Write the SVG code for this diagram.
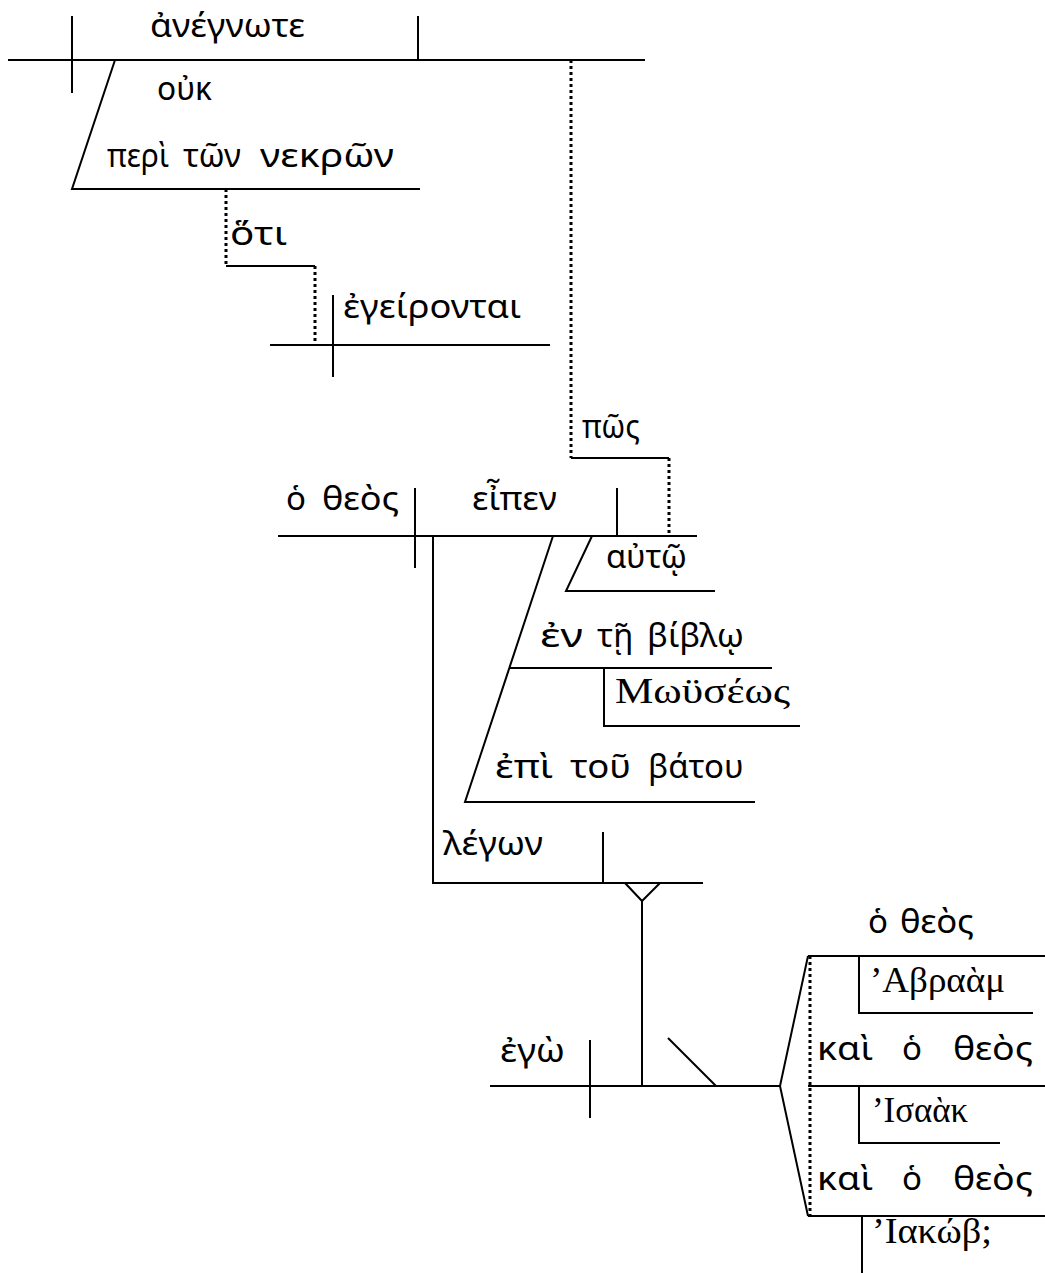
<svg xmlns="http://www.w3.org/2000/svg" width="1045" height="1273" viewBox="0 0 1045 1273">
<style>
.ln{fill:none;stroke:#000;stroke-width:2}
.dt{fill:none;stroke:#000;stroke-width:3;stroke-dasharray:3 3}
text{font-family:"Noto Sans","DejaVu Sans",sans-serif;font-size:33px;fill:#000}
text.s{font-family:"Liberation Serif","DejaVu Serif",serif;font-size:35px}
</style>
<rect width="1045" height="1273" fill="#fff"/>
<g id="connectors">
<path class="ln" d="M8,60 H645 M72,16 V93 M418,16 V60"/>
<path class="ln" d="M115,60 L72,189 H420"/>
<path class="dt" d="M226,189 V266"/>
<path class="ln" d="M226,266 H315"/>
<path class="dt" d="M315,266 V342"/>
<path class="ln" d="M270,345 H550 M333,295 V377"/>
<path class="dt" d="M571,60 V458"/>
<path class="ln" d="M571,458 H669"/>
<path class="dt" d="M669,458 V536"/>
<path class="ln" d="M278,536 H697 M415,488 V568 M617,488 V536"/>
<path class="ln" d="M592,536 L566,591 H715"/>
<path class="ln" d="M553,536 L465,802 H755 M510,668 H772"/>
<path class="ln" d="M604,668 V726 H800"/>
<path class="ln" d="M433,536 V883 H703 M603,832 V883"/>
<path class="ln" d="M625,883 L642,901 L660,883 M642,901 V1086"/>
<path class="ln" d="M490,1086 H780 M590,1040 V1118 M668,1038 L716,1086"/>
<path class="ln" d="M808,956 L780,1086 L808,1216"/>
<path class="ln" d="M808,956 H1045 M808,1086 H1045 M808,1216 H1045"/>
<path class="dt" d="M810,956 V1216"/>
<path class="ln" d="M859,956 V1013 H1033 M859,1086 V1143 H1000 M862,1216 V1273"/>
</g>
<g id="n-anegnote"><text x="150" y="37" textLength="155" lengthAdjust="spacingAndGlyphs">ἀνέγνωτε</text></g>
<g id="n-ouk"><text x="157" y="100" textLength="55" lengthAdjust="spacingAndGlyphs">οὐκ</text></g>
<g id="n-peri">
<text x="107" y="167" textLength="62" lengthAdjust="spacingAndGlyphs">περὶ</text>
<text x="183" y="167" textLength="58" lengthAdjust="spacingAndGlyphs">τῶν</text>
<text x="260" y="167" textLength="134" lengthAdjust="spacingAndGlyphs">νεκρῶν</text>
</g>
<g id="n-hoti"><text x="230" y="245" textLength="57" lengthAdjust="spacingAndGlyphs">ὅτι</text></g>
<g id="n-egeirontai"><text x="343" y="318" textLength="178" lengthAdjust="spacingAndGlyphs">ἐγείρονται</text></g>
<g id="n-pos"><text x="582" y="438" textLength="58" lengthAdjust="spacingAndGlyphs">πῶς</text></g>
<g id="n-theos1">
<text x="286" y="510">ὁ</text>
<text x="322" y="510" textLength="77" lengthAdjust="spacingAndGlyphs">θεὸς</text>
</g>
<g id="n-eipen"><text x="472" y="510" textLength="85" lengthAdjust="spacingAndGlyphs">εἶπεν</text></g>
<g id="n-auto"><text x="606" y="568" textLength="81" lengthAdjust="spacingAndGlyphs">αὐτῷ</text></g>
<g id="n-biblo">
<text x="540" y="647" textLength="43" lengthAdjust="spacingAndGlyphs">ἐν</text>
<text x="597" y="647">τῇ</text>
<text x="647" y="647" textLength="97" lengthAdjust="spacingAndGlyphs">βίβλῳ</text>
</g>
<g id="n-mouseos"><text class="s" x="615" y="703" textLength="175" lengthAdjust="spacingAndGlyphs">Μωϋσέως</text></g>
<g id="n-batou">
<text x="495" y="778" textLength="58" lengthAdjust="spacingAndGlyphs">ἐπὶ</text>
<text x="570" y="778" textLength="61" lengthAdjust="spacingAndGlyphs">τοῦ</text>
<text x="648" y="778">βάτου</text>
</g>
<g id="n-legon"><text x="443" y="855" textLength="100" lengthAdjust="spacingAndGlyphs">λέγων</text></g>
<g id="n-theos2">
<text x="868" y="933">ὁ</text>
<text x="900" y="933" textLength="74" lengthAdjust="spacingAndGlyphs">θεὸς</text>
</g>
<g id="n-abraam"><text class="s" x="870" y="992" textLength="135" lengthAdjust="spacingAndGlyphs">’Αβραὰμ</text></g>
<g id="n-ego"><text x="500" y="1062" textLength="65" lengthAdjust="spacingAndGlyphs">ἐγὼ</text></g>
<g id="n-kai1">
<text x="817" y="1060" textLength="56" lengthAdjust="spacingAndGlyphs">καὶ</text>
<text x="902" y="1060">ὁ</text>
<text x="953" y="1060" textLength="80" lengthAdjust="spacingAndGlyphs">θεὸς</text>
</g>
<g id="n-isaak"><text class="s" x="872" y="1122" textLength="96" lengthAdjust="spacingAndGlyphs">’Ισαὰκ</text></g>
<g id="n-kai2">
<text x="817" y="1190" textLength="56" lengthAdjust="spacingAndGlyphs">καὶ</text>
<text x="902" y="1190">ὁ</text>
<text x="953" y="1190" textLength="80" lengthAdjust="spacingAndGlyphs">θεὸς</text>
</g>
<g id="n-iakob"><text class="s" x="872" y="1243" textLength="120" lengthAdjust="spacingAndGlyphs">’Ιακώβ;</text></g>
</svg>
